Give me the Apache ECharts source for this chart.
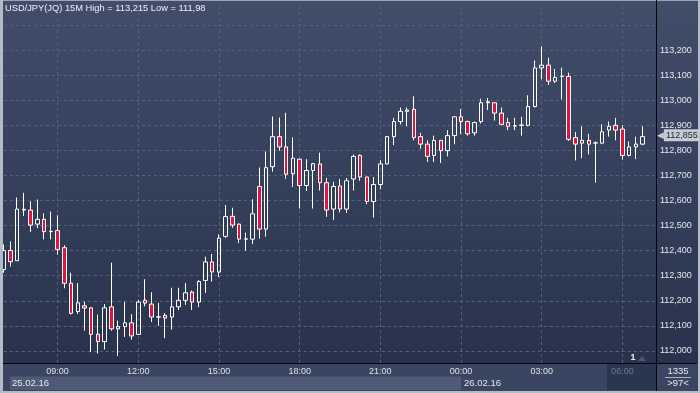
<!DOCTYPE html>
<html><head><meta charset="utf-8">
<script src="https://cdn.jsdelivr.net/npm/echarts@6/dist/echarts.min.js"></script>
<style>html,body{margin:0;padding:0;background:#26314c;overflow:hidden}#c{width:700px;height:393px}</style>
</head><body><div id="c"></div>
<script>
const categories = ['07:00','07:15','07:30','07:45','08:00','08:15','08:30','08:45','09:00','09:15','09:30','09:45','10:00','10:15','10:30','10:45','11:00','11:15','11:30','11:45','12:00','12:15','12:30','12:45','13:00','13:15','13:30','13:45','14:00','14:15','14:30','14:45','15:00','15:15','15:30','15:45','16:00','16:15','16:30','16:45','17:00','17:15','17:30','17:45','18:00','18:15','18:30','18:45','19:00','19:15','19:30','19:45','20:00','20:15','20:30','20:45','21:00','21:15','21:30','21:45','22:00','22:15','22:30','22:45','23:00','23:15','23:30','23:45','00:00','00:15','00:30','00:45','01:00','01:15','01:30','01:45','02:00','02:15','02:30','02:45','03:00','03:15','03:30','03:45','04:00','04:15','04:30','04:45','05:00','05:15','05:30','05:45','06:00','06:15','06:30','06:45','07:00','07:15'];
const timeLabels = ['09:00','12:00','15:00','18:00','21:00','00:00','03:00','06:00'];
const dateLabels = ['25.02.16','26.02.16'];
const opens = [112.325,112.401,112.360,112.562,112.562,112.506,112.525,112.476,112.480,112.412,112.270,112.157,112.180,112.172,112.067,112.037,112.176,112.088,112.097,112.112,112.066,112.202,112.187,112.135,112.142,112.135,112.176,112.202,112.235,112.195,112.281,112.355,112.315,112.457,112.537,112.506,112.446,112.446,112.656,112.486,112.735,112.855,112.814,112.707,112.765,112.660,112.720,112.746,112.671,112.566,112.658,112.566,112.686,112.780,112.694,112.596,112.664,112.746,112.855,112.915,112.956,112.964,112.855,112.825,112.780,112.840,112.799,112.859,112.934,112.915,112.870,112.915,112.990,112.990,112.949,112.911,112.897,112.900,112.900,112.975,113.129,113.140,113.076,113.095,113.095,112.851,112.829,112.840,112.829,112.829,112.881,112.900,112.885,112.780,112.814,112.825];
const closes = [112.400,112.356,112.566,112.565,112.502,112.525,112.476,112.477,112.405,112.270,112.150,112.192,112.171,112.066,112.037,112.172,112.088,112.097,112.112,112.060,112.195,112.191,112.135,112.136,112.131,112.176,112.202,112.232,112.195,112.277,112.355,112.315,112.450,112.536,112.502,112.446,112.447,112.547,112.486,112.731,112.855,112.814,112.705,112.769,112.660,112.720,112.747,112.671,112.562,112.656,112.566,112.679,112.776,112.694,112.596,112.664,112.746,112.855,112.915,112.956,112.961,112.851,112.825,112.776,112.840,112.799,112.859,112.934,112.915,112.866,112.911,112.990,112.994,112.949,112.904,112.896,112.898,112.901,112.975,113.129,113.140,113.076,113.091,113.096,112.844,112.825,112.840,112.825,112.830,112.874,112.896,112.881,112.780,112.814,112.825,112.855];
const lows = [112.312,112.337,112.360,112.538,112.475,112.490,112.445,112.445,112.385,112.250,112.145,112.147,112.081,111.995,111.990,112.006,112.081,111.980,112.056,112.045,112.064,112.178,112.115,112.100,112.051,112.085,112.163,112.184,112.163,112.175,112.231,112.277,112.295,112.450,112.491,112.430,112.400,112.426,112.448,112.456,112.715,112.799,112.687,112.654,112.568,112.638,112.568,112.640,112.535,112.523,112.553,112.550,112.640,112.679,112.585,112.532,112.645,112.744,112.821,112.904,112.896,112.840,112.806,112.754,112.754,112.750,112.776,112.825,112.865,112.859,112.859,112.907,112.961,112.919,112.900,112.881,112.881,112.859,112.896,112.971,113.084,113.061,113.069,113.003,112.838,112.760,112.769,112.784,112.671,112.825,112.855,112.840,112.763,112.776,112.765,112.821];
const highs = [112.425,112.437,112.612,112.631,112.597,112.604,112.549,112.556,112.541,112.422,112.312,112.271,112.197,112.174,112.145,112.187,112.352,112.121,112.196,112.147,112.204,112.286,112.234,112.192,112.151,112.252,112.252,112.271,112.241,112.282,112.376,112.387,112.465,112.582,112.571,112.508,112.472,112.605,112.732,112.796,112.935,112.931,112.950,112.852,112.767,112.765,112.750,112.791,112.690,112.675,112.686,112.690,112.784,112.784,112.694,112.694,112.761,112.857,112.930,112.971,112.971,113.016,112.870,112.840,112.859,112.841,112.881,112.935,112.965,112.919,112.915,113.006,113.009,112.991,112.971,112.930,112.930,112.934,113.020,113.159,113.215,113.170,113.125,113.130,113.110,112.874,112.896,112.866,112.836,112.904,112.915,112.930,112.900,112.836,112.855,112.896];
const lastPrice = 112.855;
const titleText = 'USD/JPY(JQ) 15M High = 113,215 Low = 111,98';

const candles = opens.map((o, i) => [o, closes[i], lows[i], highs[i]]);
const FONT = 'Liberation Sans, Arial, sans-serif';
const GRID_COLOR = '#56627d';
const isTimeTick = (idx, val) => timeLabels.indexOf(val) >= 0 && idx >= 8 && idx <= 92;

const chart = echarts.init(document.getElementById('c'), null, {renderer: 'canvas'});
chart.setOption({
  animation: false,
  backgroundColor: {type: 'linear', x: 0, y: 0, x2: 0, y2: 1,
    colorStops: [{offset: 0, color: '#414d69'}, {offset: 1, color: '#26304b'}]},
  grid: {left: 3.8, right: 44, top: -24, height: 400, containLabel: false},
  xAxis: [{
    type: 'category', data: categories, boundaryGap: false, position: 'bottom', offset: -13, z: 200,
    axisLine: {show: false}, axisTick: {show: false}, splitLine: {show: false},
    axisLabel: {
      interval: isTimeTick,
      color: (val) => val === '06:00' ? '#6f7a91' : '#dde1e8',
      fontSize: 9, fontFamily: FONT, margin: 4
    }
  }, {
    type: 'category', data: categories, boundaryGap: false, position: 'top',
    axisLine: {show: false}, axisTick: {show: false}, axisLabel: {show: false},
    splitLine: {show: true, interval: isTimeTick,
      lineStyle: {color: GRID_COLOR, type: [3, 3], width: 1}}
  }],
  yAxis: {
    type: 'value', position: 'right', min: 111.9, max: 113.4, interval: 0.1,
    axisLine: {show: false}, axisTick: {show: false},
    axisLabel: {
      formatter: v => (v < 111.95 || v > 113.25) ? '' : v.toFixed(3).replace('.', ','),
      color: '#e4e8ee', fontSize: 9, fontFamily: FONT, margin: 4
    },
    splitLine: {show: true, lineStyle: {color: GRID_COLOR, type: [3, 3], width: 1}}
  },
  series: [{
    type: 'candlestick', data: candles, barWidth: 4, xAxisIndex: 0, z: 3,
    itemStyle: {color: 'transparent', color0: '#e1143c', borderColor: '#ffffff', borderColor0: '#ffffff',
      borderColorDoji: '#ffffff', borderWidth: 1},
    markLine: {
      silent: true, symbol: ['none', 'none'], animation: false, z: 300,
      lineStyle: {color: 'transparent', width: 0},
      data: [{yAxis: lastPrice}],
      label: {
        show: true, position: 'end', distance: 1,
        formatter: '{a|◀}{b|' + lastPrice.toFixed(3).replace('.', ',') + '}',
        rich: {
          a: {color: '#c6cad2', fontSize: 9, fontFamily: 'DejaVu Sans'},
          b: {backgroundColor: '#c6cad2', color: '#1c2434', fontSize: 9, fontFamily: FONT, padding: [2, 2, 1, 2]}
        }
      }
    }
  }],
  graphic: [
    {type: 'rect', z: 50, shape: {x: 0, y: 0, width: 700, height: 4}, style: {fill: '#414d69'}},
    {type: 'rect', z: 51, shape: {x: 0, y: 0, width: 700, height: 1}, style: {fill: '#9aa4b5'}},
    {type: 'rect', z: 50, shape: {x: 0, y: 363, width: 700, height: 30}, style: {fill: '#3a4661'}},
    {type: 'rect', z: 51, shape: {x: 10, y: 376.5, width: 451, height: 13.5}, style: {fill: '#4f5b76'}},
    {type: 'rect', z: 51, shape: {x: 607, y: 364, width: 49, height: 26}, style: {fill: '#2a3550'}},
    {type: 'rect', z: 52, shape: {x: 3, y: 363, width: 694, height: 1}, style: {fill: '#05070c'}},
    {type: 'rect', z: 52, shape: {x: 656, y: 0, width: 1, height: 393}, style: {fill: '#05070c'}},
    {type: 'text', z: 53, x: 12, y: 383.5, style: {text: dateLabels[0], fill: '#e4e8ee', font: '9.5px ' + FONT, textVerticalAlign: 'middle'}},
    {type: 'text', z: 53, x: 464, y: 383.5, style: {text: dateLabels[1], fill: '#e4e8ee', font: '9.5px ' + FONT, textVerticalAlign: 'middle'}},
    {type: 'text', z: 53, x: 678, y: 371.5, style: {text: '1335', fill: '#e4e8ee', font: '9.5px ' + FONT, textAlign: 'center', textVerticalAlign: 'middle'}},
    {type: 'rect', z: 53, shape: {x: 665, y: 377, width: 26, height: 1}, style: {fill: '#a9b2c1'}},
    {type: 'text', z: 53, x: 678, y: 383.5, style: {text: '>97<', fill: '#e4e8ee', font: '9.5px ' + FONT, textAlign: 'center', textVerticalAlign: 'middle'}},
    {type: 'text', z: 53, x: 633, y: 358, style: {text: '1', fill: '#e8ecf2', font: 'bold 9px ' + FONT, textAlign: 'center', textVerticalAlign: 'middle'}},
    {type: 'polygon', z: 53, shape: {points: [[638, 361], [646, 361], [642, 356]]}, style: {fill: '#4c5873'}},
    {type: 'rect', z: 60, shape: {x: 0, y: 0, width: 3, height: 393}, style: {fill: '#b3bbc8'}},
    {type: 'rect', z: 60, shape: {x: 698, y: 0, width: 2, height: 393}, style: {fill: '#b3bbc8'}},
    {type: 'rect', z: 60, shape: {x: 0, y: 391, width: 700, height: 2}, style: {fill: '#b3bbc8'}},
    {type: 'text', z: 61, x: 5, y: 8.5, style: {text: titleText, fill: '#eef1f5', font: '9.3px ' + FONT, textVerticalAlign: 'middle'}}
  ]
});
</script>
</body></html>
